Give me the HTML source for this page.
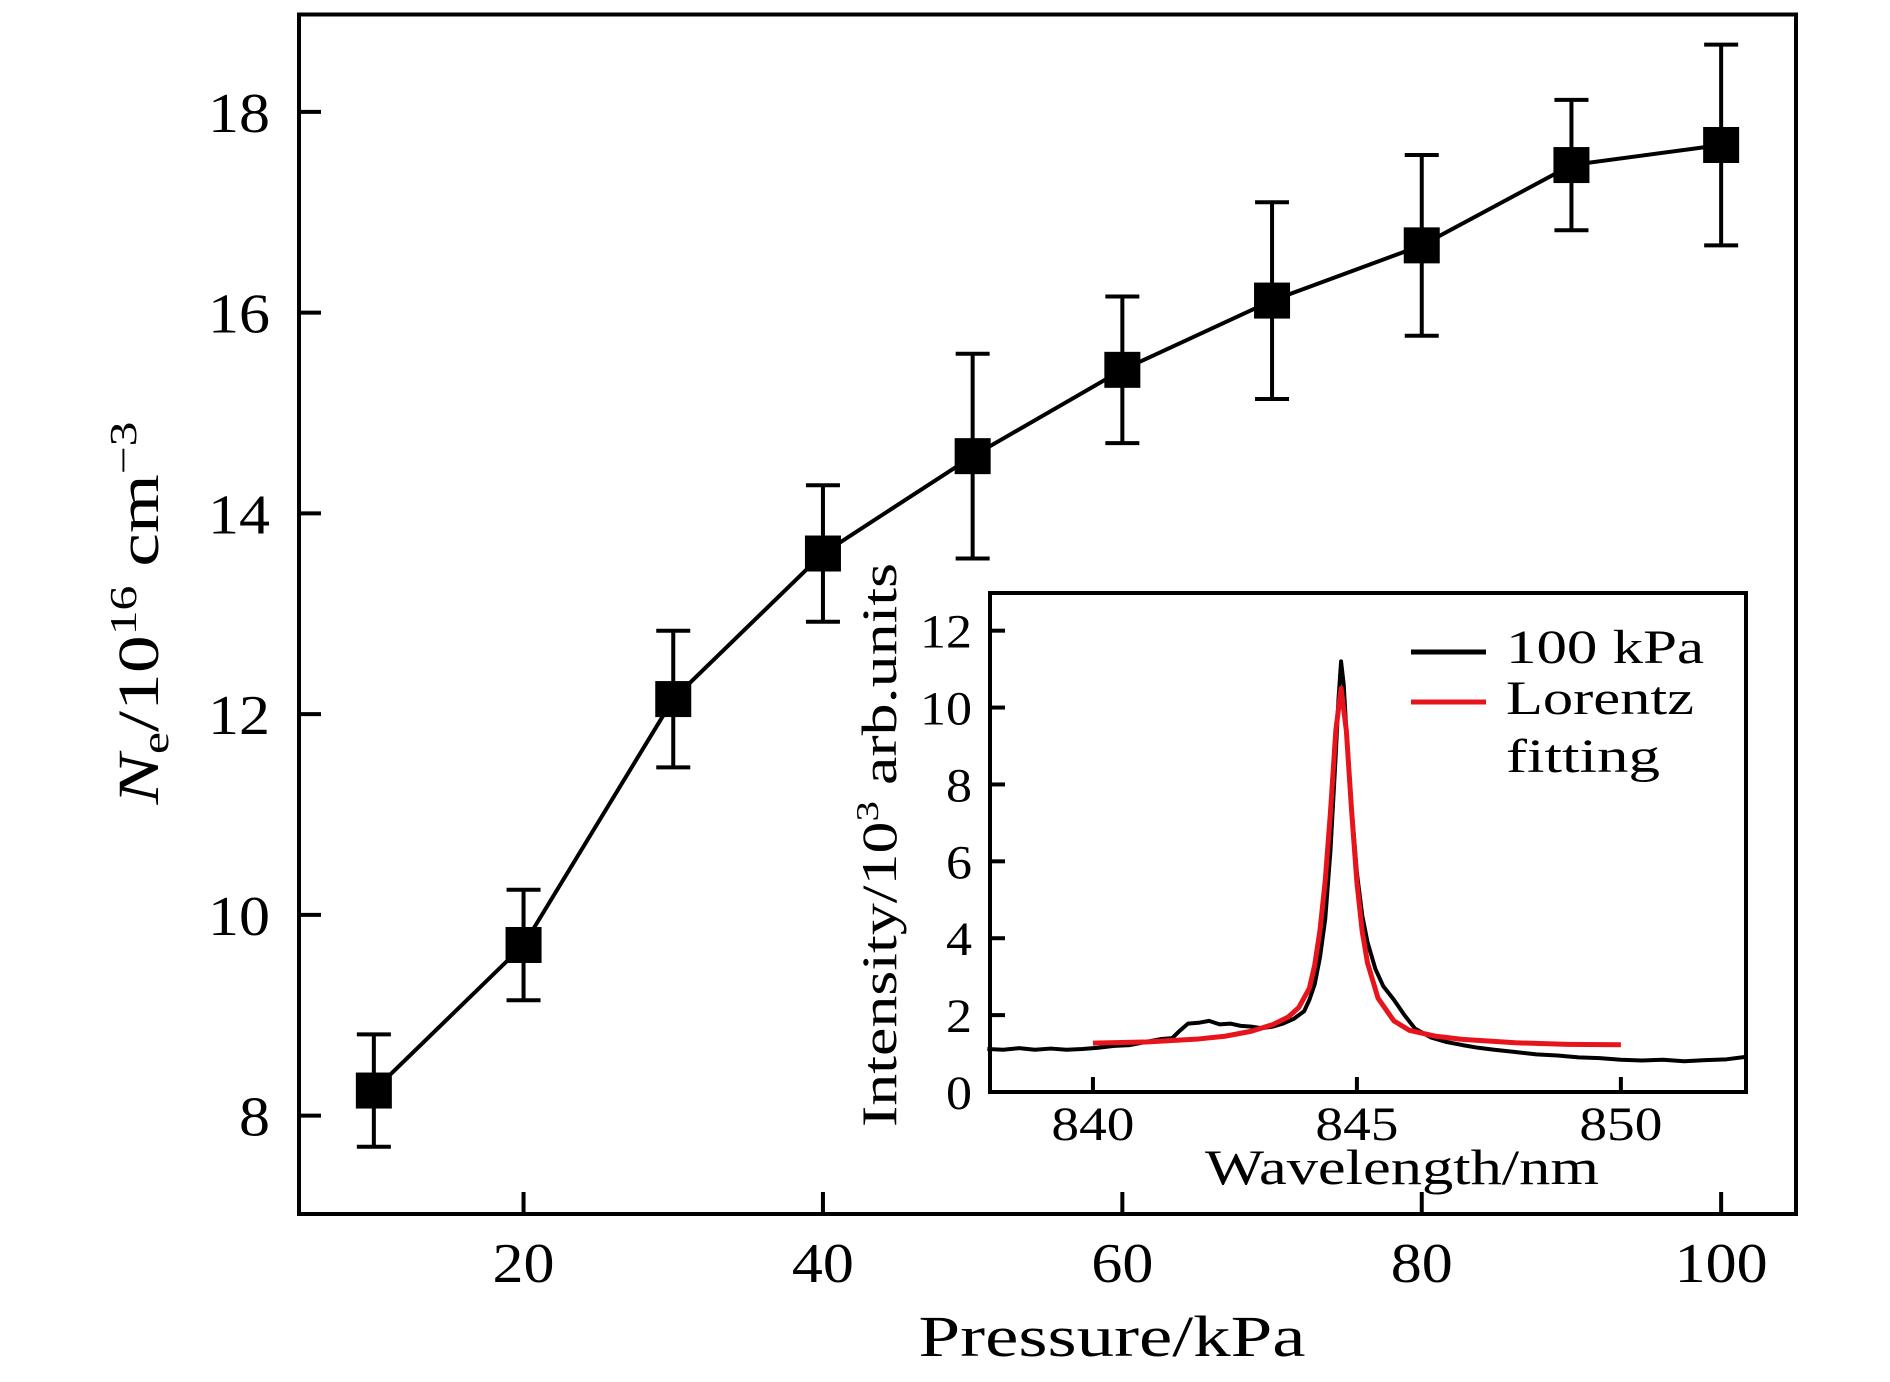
<!DOCTYPE html>
<html><head><meta charset="utf-8"><style>
body{margin:0;background:#fff}
svg{display:block;font-family:"Liberation Serif",serif}
</style></head><body>
<svg id="chart" width="1890" height="1382" viewBox="0 0 1890 1382" xmlns="http://www.w3.org/2000/svg">
<rect x="0" y="0" width="1890" height="1382" fill="#fff"/>
<g id="main"></g>
<g id="inset"></g>
</svg>
<script>
const pressures=[10,20,30,40,50,60,70,80,90,100];
const density=[8.25,9.7,12.15,13.6,14.57,15.43,16.12,16.67,17.47,17.67];
const densityErr=[0.56,0.55,0.68,0.68,1.02,0.73,0.98,0.9,0.65,1.0];
const xTicks=[20,40,60,80,100];
const yTicks=[8,10,12,14,16,18];
const specX=[838,838.3,838.6,838.9,839.2,839.5,839.8,840.1,840.4,840.7,841,841.3,841.5,841.65,841.8,842,842.2,842.4,842.6,842.8,843,843.2,843.4,843.6,843.8,844,844.1,844.2,844.3,844.4,844.5,844.6,844.65,844.7,844.75,844.8,844.9,845,845.1,845.2,845.35,845.5,845.7,845.9,846.1,846.4,846.7,847,847.3,847.6,848,848.4,848.8,849.2,849.6,850,850.4,850.8,851.2,851.6,852,852.4];
const specY=[1.12,1.1,1.14,1.1,1.13,1.1,1.12,1.15,1.2,1.22,1.3,1.38,1.4,1.6,1.78,1.8,1.85,1.76,1.78,1.72,1.7,1.66,1.7,1.78,1.9,2.1,2.4,2.8,3.5,4.5,6.3,8.8,10.2,11.2,10.6,9.4,7.4,5.7,4.6,3.9,3.2,2.75,2.4,2.0,1.65,1.42,1.3,1.22,1.15,1.1,1.04,0.98,0.95,0.9,0.88,0.84,0.82,0.84,0.8,0.83,0.85,0.92];
const fitX=[840,841,842,842.5,843,843.4,843.7,843.9,844.1,844.2,844.3,844.4,844.5,844.6,844.7,844.8,844.9,845,845.1,845.2,845.4,845.7,846,846.5,847,848,849,850];
const fitY=[1.27,1.3,1.38,1.45,1.58,1.75,1.95,2.2,2.7,3.3,4.2,5.5,7.3,9.4,10.5,9.4,7.3,5.45,4.18,3.36,2.44,1.85,1.6,1.45,1.37,1.28,1.24,1.23];
const insetXTicks=[840,845,850];
const insetYTicks=[0,2,4,6,8,10,12];

const NS="http://www.w3.org/2000/svg";
function mk(parent,tag,attrs,text){const e=document.createElementNS(NS,tag);for(const k in attrs)e.setAttribute(k,attrs[k]);if(text!==undefined)e.textContent=text;parent.appendChild(e);return e;}

// main axes
const L=299,R=1796,T=14.5,B=1214;
const xs=v=>L+(v-5)/(105-5)*(R-L);
const ys=v=>B-(v-7.02)/(18.97-7.02)*(B-T);
const g=document.getElementById('main');
const frame=mk(g,'rect',{x:L,y:T,width:R-L,height:B-T,fill:'none',stroke:'#000','stroke-width':4});


xTicks.forEach(v=>{
  const t=mk(g,'line',{x1:xs(v),x2:xs(v),y1:B,y2:B-22,stroke:'#000','stroke-width':4});
  
  
  const s=String(v);
  const l=mk(g,'text',{x:xs(v),y:1282,'font-size':56,'text-anchor':'middle',textLength:s.length*31,lengthAdjust:'spacingAndGlyphs'},s);
  
  
});
yTicks.forEach(v=>{
  const t=mk(g,'line',{x1:L,x2:L+22,y1:ys(v),y2:ys(v),stroke:'#000','stroke-width':4});
  
  
  const s=String(v);
  const l=mk(g,'text',{x:270,y:ys(v)+20,'font-size':56,'text-anchor':'end',textLength:s.length*31,lengthAdjust:'spacingAndGlyphs'},s);
  
  
});
const xt=mk(g,'text',{x:1112,y:1356,'font-size':58,'text-anchor':'middle',textLength:387,lengthAdjust:'spacingAndGlyphs'},'Pressure/kPa');


const yt=mk(g,'text',{x:0,y:0,'font-size':58,'text-anchor':'middle',textLength:383,lengthAdjust:'spacingAndGlyphs',transform:'translate(158,613) rotate(-90)'});


mk(yt,'tspan',{'font-style':'italic'},'N');
mk(yt,'tspan',{'font-size':38,dy:10},'e');
mk(yt,'tspan',{dy:-10},'/10');
mk(yt,'tspan',{'font-size':38,dy:-22},'16');
mk(yt,'tspan',{dy:22},' cm');
mk(yt,'tspan',{'font-size':38,dy:-22},'−3');
const pl=mk(g,'polyline',{points:pressures.map((p,i)=>xs(p)+','+ys(density[i])).join(' '),fill:'none',stroke:'#000','stroke-width':4});


pressures.forEach((p,i)=>{
  const x=xs(p),y1=ys(density[i]+densityErr[i]),y2=ys(density[i]-densityErr[i]);
  const eb=mk(g,'path',{d:`M${x},${y1}V${y2}M${x-17},${y1}H${x+17}M${x-17},${y2}H${x+17}`,stroke:'#000','stroke-width':4,fill:'none'});
  
  
  const m=mk(g,'rect',{x:x-18,y:ys(density[i])-18,width:36,height:36,fill:'#000'});
  
  
});

// inset
const iL=990,iR=1746,iT=593,iB=1092;
const ix=v=>iL+(v-838.05)/(852.37-838.05)*(iR-iL);
const iy=v=>iB-(v-0)/(12.98-0)*(iB-iT);
const h=document.getElementById('inset');
const bg=mk(h,'rect',{x:iL,y:iT,width:iR-iL,height:iB-iT,fill:'#fff',stroke:'#000','stroke-width':4});


insetXTicks.forEach(v=>{
  const t=mk(h,'line',{x1:ix(v),x2:ix(v),y1:iB,y2:iB-15,stroke:'#000','stroke-width':4});
  
  
  const l=mk(h,'text',{x:ix(v),y:1140,'font-size':48,'text-anchor':'middle',textLength:83,lengthAdjust:'spacingAndGlyphs'},String(v));
  
  
});
insetYTicks.forEach(v=>{
  const t=mk(h,'line',{x1:iL,x2:iL+15,y1:iy(v),y2:iy(v),stroke:'#000','stroke-width':4});
  
  
  const s=String(v);
  const l=mk(h,'text',{x:972,y:iy(v)+17,'font-size':48,'text-anchor':'end',textLength:s.length*26,lengthAdjust:'spacingAndGlyphs'},s);
  
  
});
const ixt=mk(h,'text',{x:1402,y:1184,'font-size':50,'text-anchor':'middle',textLength:394,lengthAdjust:'spacingAndGlyphs'},'Wavelength/nm');


const iyt=mk(h,'text',{x:0,y:0,'font-size':50,'text-anchor':'middle',textLength:564,lengthAdjust:'spacingAndGlyphs',transform:'translate(896,845) rotate(-90)'});


mk(iyt,'tspan',{},'Intensity/10');
mk(iyt,'tspan',{'font-size':32,dy:-18},'3');
mk(iyt,'tspan',{dy:18},' arb.units');
const sp=mk(h,'polyline',{points:specX.map((v,i)=>ix(v)+','+iy(specY[i])).join(' '),fill:'none',stroke:'#000','stroke-width':4,'stroke-linejoin':'round'});


const fp=mk(h,'polyline',{points:fitX.map((v,i)=>ix(v)+','+iy(fitY[i])).join(' '),fill:'none',stroke:'#e8141c','stroke-width':5,'stroke-linejoin':'round'});


const lg1=mk(h,'line',{x1:1411,x2:1486,y1:652,y2:652,stroke:'#000','stroke-width':5});


const lt1=mk(h,'text',{x:1506,y:663,'font-size':48,textLength:198,lengthAdjust:'spacingAndGlyphs'},'100 kPa');


const lg2=mk(h,'line',{x1:1411,x2:1486,y1:702,y2:702,stroke:'#e8141c','stroke-width':5});


const lt2=mk(h,'text',{x:1506,y:714,'font-size':48,textLength:188,lengthAdjust:'spacingAndGlyphs'},'Lorentz');


const lt3=mk(h,'text',{x:1506,y:772,'font-size':48,textLength:154,lengthAdjust:'spacingAndGlyphs'},'fitting');


</script>
</body></html>
